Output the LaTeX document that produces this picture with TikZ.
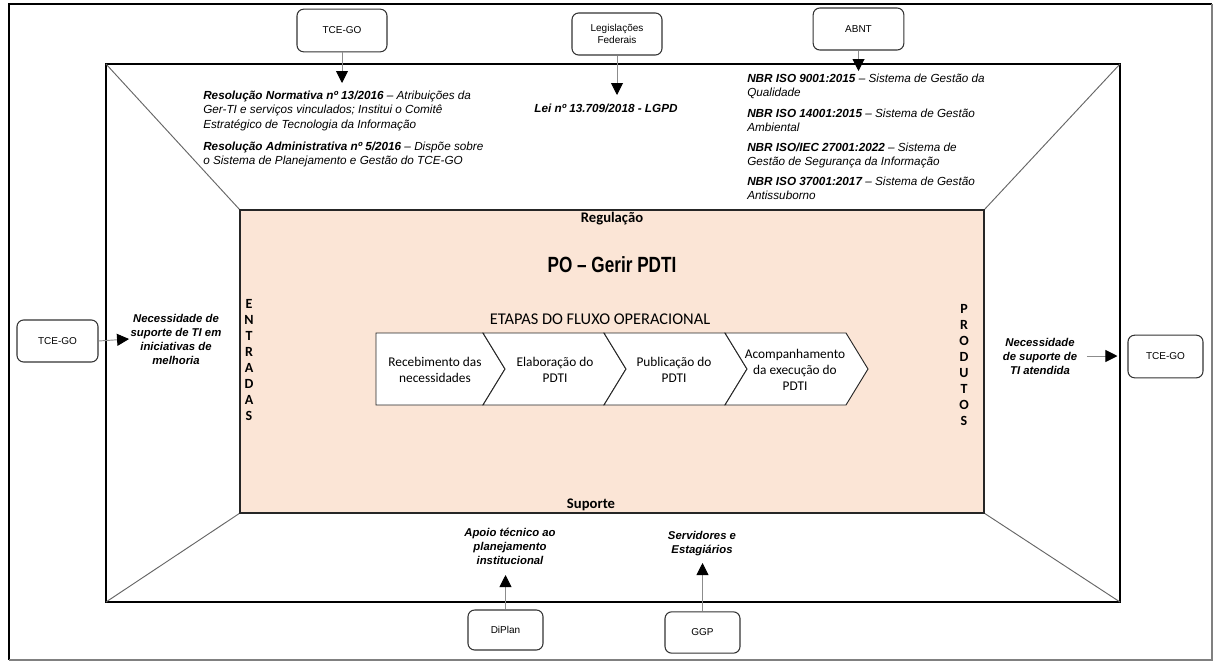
\documentclass[tikz,border=0pt]{standalone}
\usepackage{fontspec}
\setmainfont{Liberation Sans}
\newfontfamily\calib{Carlito}
\newfontfamily\narrowsans[FakeStretch=0.78]{Liberation Sans}
\usetikzlibrary{arrows.meta, positioning}
\definecolor{procfill}{RGB}{251, 229, 214}

\begin{document}
\begin{tikzpicture}[
    x=0.75pt, y=-0.75pt,
    srcbox/.style={draw=black!80, rounded corners=5pt, line width=0.8pt,
                   fill=white, align=center, inner sep=1pt,
                   font=\fontsize{7.5}{9}\selectfont},
    normtext/.style={font=\fontsize{8.8}{10.6}\selectfont\itshape,
                     align=left, inner sep=0pt, anchor=north west},
    needtext/.style={font=\fontsize{8.5}{10.5}\selectfont\bfseries\itshape,
                     align=center, inner sep=1pt},
    flow/.style={draw=black!45, line width=0.7pt,
                 -{Triangle[length=9pt, width=9pt, color=black]}},
    diag/.style={draw=black!60, line width=0.7pt},
    stage/.style={draw=black!85, fill=white, line width=0.7pt},
    stagetext/.style={font=\calib\fontsize{10}{12}\selectfont, align=center},
    sidelabel/.style={font=\calib\bfseries\fontsize{10.5}{12}\selectfont, align=center},
  ]
    \useasboundingbox (0,0) rectangle (1213,661);

    % Outer frame
    \draw[line width=2.2pt] (9,660) -- (9,4) -- (1212,4);
    \draw[black!50, line width=0.8pt] (1212,4) -- (1212,660) -- (9,660);

    % Context frame and process box
    \node[draw, line width=2.2pt, fill=white, inner sep=0pt, outer sep=0pt,
          minimum width=760.5pt, minimum height=403.5pt] (frame) at (613,333) {};
    \draw[diag] (frame.north west) -- (240,210);
    \draw[diag] (frame.north east) -- (984,210);
    \draw[diag] (frame.south west) -- (240,513);
    \draw[diag] (frame.south east) -- (984,513);
    \node[draw=black!85, fill=procfill, line width=1pt, inner sep=0pt, outer sep=0pt,
          minimum width=558pt, minimum height=227.25pt] (proc) at (612,361.5) {};

    \node[font=\calib\bfseries\fontsize{11}{13}\selectfont] (reg) at (612,219) {Regulação};
    \node[font=\narrowsans\bfseries\fontsize{16.5}{19}\selectfont] (title) at (612,265)
      {PO – Gerir PDTI};
    \node[font=\calib\fontsize{12.3}{14}\selectfont] (etapas) at (600,319)
      {ETAPAS DO FLUXO OPERACIONAL};
    \node[font=\calib\bfseries\fontsize{11}{13}\selectfont] (sup) at (591,505) {Suporte};
    \node[sidelabel] (entr) at (249,360) {E\\N\\T\\R\\A\\D\\A\\S};
    \node[sidelabel] (prod) at (964,365) {P\\R\\O\\D\\U\\T\\O\\S};

    % Operational steps
    \draw[stage] (376,333) -- (483,333) -- (505,369) -- (483,405) -- (376,405) -- cycle;
    \draw[stage] (483,333) -- (604,333) -- (626,369) -- (604,405) -- (483,405) -- (505,369) -- cycle;
    \draw[stage] (604,333) -- (725,333) -- (747,369) -- (725,405) -- (604,405) -- (626,369) -- cycle;
    \draw[stage] (725,333) -- (846,333) -- (868,369) -- (846,405) -- (725,405) -- (747,369) -- cycle;
    \node[stagetext] (st1) at (435,370) {Recebimento das\\necessidades};
    \node[stagetext] (st2) at (555,370) {Elaboração do\\PDTI};
    \node[stagetext] (st3) at (674,370) {Publicação do\\PDTI};
    \node[stagetext] (st4) at (795,370) {Acompanhamento\\da execução do\\PDTI};

    % Regulation texts
    \node[normtext] (res) at (203,91) {%
      \textbf{Resolução Normativa nº 13/2016} – Atribuições da\\
      Ger-TI e serviços vinculados; Institui o Comitê\\
      Estratégico de Tecnologia da Informação\\[6pt]
      \textbf{Resolução Administrativa nº 5/2016} – Dispõe sobre\\
      o Sistema de Planejamento e Gestão do TCE-GO};
    \node[font=\fontsize{8.8}{10.5}\selectfont\bfseries\itshape] (lei) at (606,108)
      {Lei nº 13.709/2018 - LGPD};
    \node[normtext] (nbr) at (747,74) {%
      \textbf{NBR ISO 9001:2015} – Sistema de Gestão da\\
      Qualidade\\[4.5pt]
      \textbf{NBR ISO 14001:2015} – Sistema de Gestão\\
      Ambiental\\[4.5pt]
      \textbf{NBR ISO/IEC 27001:2022} – Sistema de\\
      Gestão de Segurança da Informação\\[4.5pt]
      \textbf{NBR ISO 37001:2017} – Sistema de Gestão\\
      Antissuborno};

    % Inputs, products and support
    \node[needtext] (needL) at (176,339)
      {Necessidade de\\suporte de TI em\\iniciativas de\\melhoria};
    \node[needtext] (needR) at (1040,356) {Necessidade\\de suporte de\\TI atendida};
    \node[needtext] (apoio) at (510,546) {Apoio técnico ao\\planejamento\\institucional};
    \node[needtext] (serv) at (702,544) {Servidores e\\Estagiários};

    % Sources
    \node[srcbox, minimum width=67.5pt, minimum height=32pt] (tceT) at (342,30.5) {TCE-GO};
    \node[srcbox, minimum width=67.5pt, minimum height=31.5pt] (legis) at (617,34)
      {Legislações\\Federais};
    \node[srcbox, minimum width=68pt, minimum height=31.5pt] (abnt) at (858.5,29) {ABNT};
    \node[srcbox, minimum width=60.75pt, minimum height=31.5pt] (tceL) at (57.5,341) {TCE-GO};
    \node[srcbox, minimum width=56.25pt, minimum height=32pt] (tceR) at (1165.5,356.5) {TCE-GO};
    \node[srcbox, minimum width=56.25pt, minimum height=30pt] (diplan) at (505.5,630) {DiPlan};
    \node[srcbox, minimum width=56.25pt, minimum height=31pt] (ggp) at (702.5,632.5) {GGP};

    % Arrows
    \coordinate (resIn) at (342,83);
    \coordinate (leiIn) at (617,95);
    \coordinate (nbrIn) at (858.5,71);
    \coordinate (apoioIn) at (505.5,575);
    \coordinate (servIn) at (702.5,563);
    \draw[flow] (tceT.south) -- (resIn);
    \draw[flow] (legis.south) -- (leiIn);
    \draw[flow] (abnt.south) -- (nbrIn);
    \draw[flow] (tceL.east) -- (needL.west);
    \draw[flow, shorten <=6pt, shorten >=7.5pt] (needR.east) -- (tceR.west |- needR.east);
    \draw[flow] (diplan.north) -- (apoioIn);
    \draw[flow] (ggp.north) -- (servIn);
  \end{tikzpicture}
\end{document}
